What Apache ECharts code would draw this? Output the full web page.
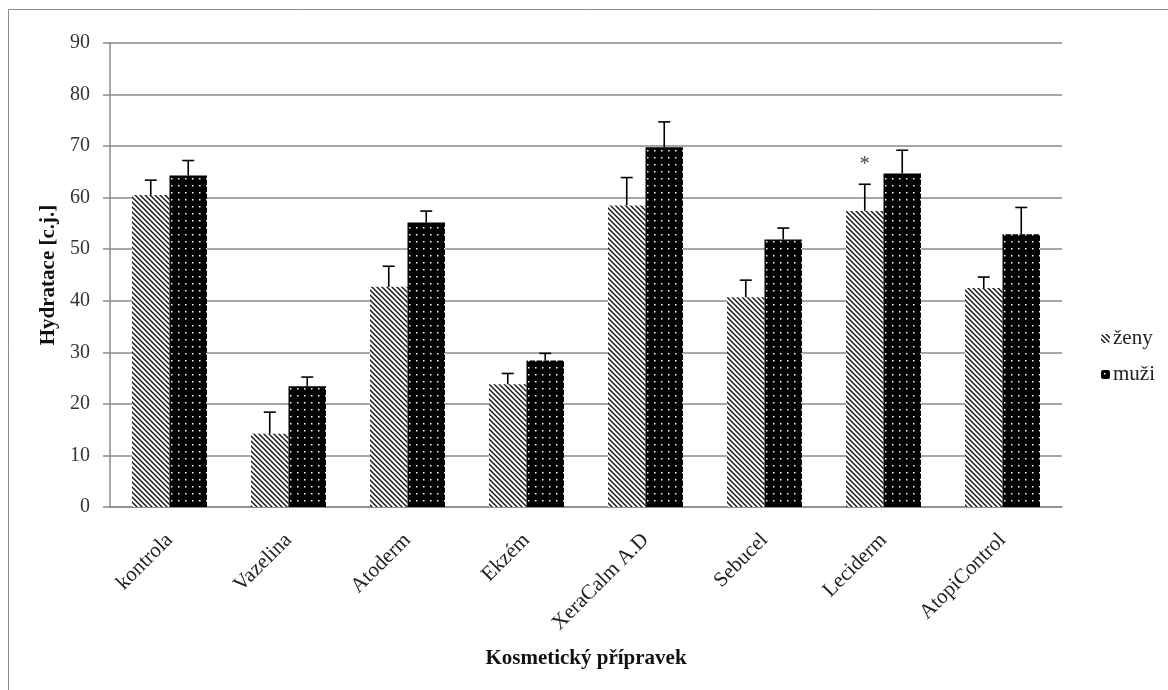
<!DOCTYPE html>
<html>
<head>
<meta charset="utf-8">
<script src="https://cdn.jsdelivr.net/npm/echarts@6/dist/echarts.min.js"></script>
<style>
  html, body { margin: 0; padding: 0; background: #fff; }
  #chart { width: 1168px; height: 690px; }
</style>
</head>
<body>
<div id="chart"></div>
<script>
// Hydration by cosmetic product, women vs men (mean ± SD)
const categories = ['kontrola', 'Vazelina', 'Atoderm', 'Ekzém', 'XeraCalm A.D', 'Sebucel', 'Leciderm', 'AtopiControl'];
const zenyValues = [60.5, 14.2, 42.7, 23.8, 58.5, 40.7, 57.4, 42.5];
const zenyErrors = [2.9, 4.2, 4.0, 2.1, 5.4, 3.3, 5.2, 2.1];
const muziValues = [64.3, 23.4, 55.2, 28.4, 69.8, 51.9, 64.7, 52.9];
const muziErrors = [2.9, 1.8, 2.2, 1.4, 4.9, 2.2, 4.5, 5.2];
const zenyMarks = ['', '', '', '', '', '', '*', ''];
const yTicks = { min: 0, max: 90, interval: 10 };

const CAT_GAP = 0.37;
const SERIF = '"Liberation Serif", "Times New Roman", serif';

// Diagonal hatching, white ground
function hatchPattern() {
  const s = 5;
  const c = document.createElement('canvas');
  c.width = s; c.height = s;
  const g = c.getContext('2d');
  g.fillStyle = '#fff';
  g.fillRect(0, 0, s, s);
  g.strokeStyle = '#111';
  g.lineWidth = 1.4;
  g.beginPath();
  g.moveTo(-1, -1); g.lineTo(s + 1, s + 1);
  g.moveTo(-1, s - 1); g.lineTo(1, s + 1);
  g.moveTo(s - 1, -1); g.lineTo(s + 1, 1);
  g.stroke();
  return c;
}

// White dots on black
function dotPattern() {
  const s = 7;
  const c = document.createElement('canvas');
  c.width = s; c.height = s;
  const g = c.getContext('2d');
  g.fillStyle = '#000';
  g.fillRect(0, 0, s, s);
  g.fillStyle = '#fff';
  g.fillRect(3, 3, 1.5, 1.5);
  return c;
}

const zenyFill = { image: hatchPattern(), repeat: 'repeat' };
const muziFill = { image: dotPattern(), repeat: 'repeat' };

// Error bar (upper whisker with cap), shifted onto the matching bar
function errorRenderer(values, errors, side, marks) {
  return function (params, api) {
    const i = api.value(0);
    const v = values[i];
    const e = errors[i];
    const band = api.size([1, 0])[0];
    const barW = band * (1 - CAT_GAP) / 2;
    const base = api.coord([i, v]);
    const top = api.coord([i, v + e]);
    const x = base[0] + side * barW / 2;
    const cap = 6;
    const style = { stroke: '#000', lineWidth: 1.6 };
    const children = [
      { type: 'line', shape: { x1: x, y1: base[1], x2: x, y2: top[1] }, style },
      { type: 'line', shape: { x1: x - cap, y1: top[1], x2: x + cap, y2: top[1] }, style }
    ];
    if (marks && marks[i]) {
      children.push({
        type: 'text',
        style: {
          text: marks[i], x: x, y: top[1] - 20,
          align: 'center', verticalAlign: 'middle',
          font: '20px ' + SERIF, fill: '#444'
        }
      });
    }
    return { type: 'group', children };
  };
}

const chart = echarts.init(document.getElementById('chart'), null, { renderer: 'canvas' });

chart.setOption({
  animation: false,
  backgroundColor: '#fff',
  graphic: [{
    type: 'rect',
    shape: { x: 8.5, y: 9.5, width: 1200, height: 720 },
    style: { fill: 'none', stroke: '#8a8a8a', lineWidth: 1 },
    silent: true
  }],
  grid: { left: 110, right: 106, top: 43, bottom: 183 },
  legend: {
    orient: 'vertical',
    left: 1096,
    top: 323,
    itemWidth: 9,
    itemHeight: 9,
    itemGap: 15,
    data: ['ženy', 'muži'],
    textStyle: { fontFamily: SERIF, fontSize: 21, color: '#222', padding: [0, 0, 0, -2] }
  },
  xAxis: {
    type: 'category',
    data: categories,
    name: 'Kosmetický přípravek',
    nameLocation: 'middle',
    nameGap: 141,
    nameTextStyle: { fontFamily: SERIF, fontSize: 21, fontWeight: 'bold', color: '#111' },
    axisLine: { lineStyle: { color: '#8a8a8a', width: 1.5 } },
    axisTick: { show: false },
    axisLabel: {
      rotate: 45,
      margin: 30,
      fontFamily: SERIF,
      fontSize: 21,
      color: '#222'
    }
  },
  yAxis: {
    type: 'value',
    min: yTicks.min,
    max: yTicks.max,
    interval: yTicks.interval,
    name: 'Hydratace [c.j.]',
    nameLocation: 'middle',
    nameGap: 48,
    nameTextStyle: { fontFamily: SERIF, fontSize: 21, fontWeight: 'bold', color: '#111' },
    axisLine: { show: true, lineStyle: { color: '#8a8a8a', width: 1.5 } },
    axisTick: { show: true, length: 7, lineStyle: { color: '#8a8a8a', width: 1.5 } },
    splitLine: { lineStyle: { color: '#8a8a8a', width: 1.5 } },
    axisLabel: { margin: 20, fontFamily: SERIF, fontSize: 20, color: '#333' }
  },
  series: [
    {
      name: 'ženy',
      type: 'bar',
      data: zenyValues,
      barGap: '0%',
      barCategoryGap: (CAT_GAP * 100) + '%',
      itemStyle: { color: zenyFill }
    },
    {
      name: 'muži',
      type: 'bar',
      data: muziValues,
      itemStyle: { color: muziFill }
    },
    {
      name: 'ženy-err',
      type: 'custom',
      data: categories.map((c, i) => [i]),
      renderItem: errorRenderer(zenyValues, zenyErrors, -1, zenyMarks),
      z: 5,
      silent: true
    },
    {
      name: 'muži-err',
      type: 'custom',
      data: categories.map((c, i) => [i]),
      renderItem: errorRenderer(muziValues, muziErrors, 1, null),
      z: 5,
      silent: true
    }
  ]
});
</script>
</body>
</html>
